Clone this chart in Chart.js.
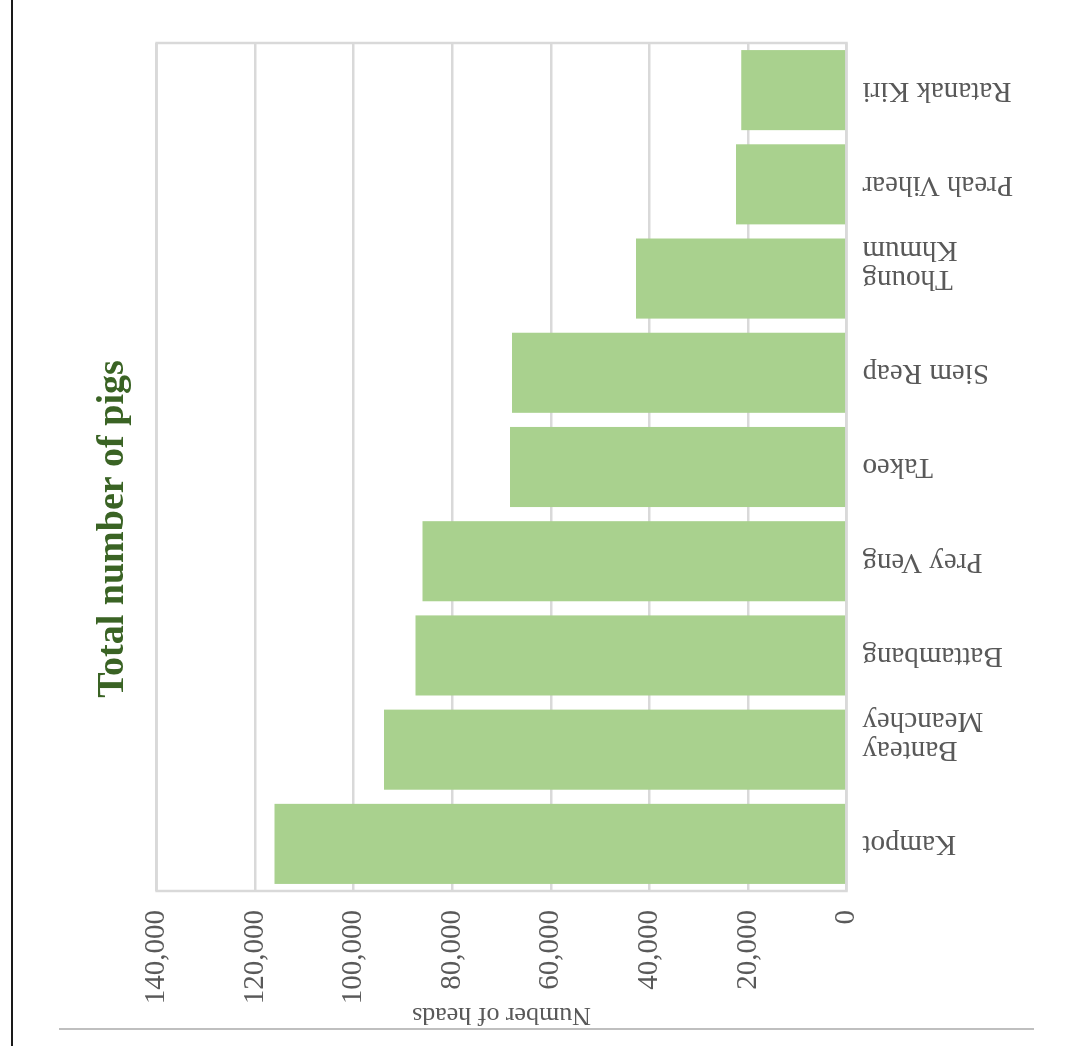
<!DOCTYPE html>
<html>
<head>
<meta charset="utf-8">
<script src="https://cdn.jsdelivr.net/npm/chart.js@4/dist/chart.umd.min.js"></script>
<style>
  html, body { margin: 0; padding: 0; background: #ffffff; }
  #page { position: relative; width: 1074px; height: 1046px; overflow: hidden; background: #ffffff; }
  #c { position: absolute; left: 0; top: 0; transform-origin: 0 0; transform: translateY(1046px) rotate(-90deg); }
  #vline { position: absolute; left: 11px; top: 0; width: 1.5px; height: 1046px; background: #1a1a1a; }
  #hline { position: absolute; left: 59px; top: 1028px; width: 975px; height: 1.5px; background: #bfbfbf; }
</style>
</head>
<body>
<div id="page">
  <canvas id="c" width="1046" height="1074"></canvas>
  <div id="vline"></div>
  <div id="hline"></div>
</div>
<script>
// ---- data ----
const categories = [
  'Kampot',
  ['Banteay', 'Meanchey'],
  'Battambang',
  'Prey Veng',
  'Takeo',
  'Siem Reap',
  ['Thoung', 'Khmum'],
  'Preah Vihear',
  'Ratanak Kiri'
];
const pigHeads = [116100, 93850, 87470, 86050, 68260, 67860, 42740, 22440, 21360];
const axisMax = 140000;
const axisStep = 20000;
const chartTitle = 'Total number of pigs';
const valueAxisTitle = 'Number of heads';

// ---- styles ----
const FONT = "'Liberation Serif', 'Times New Roman', serif";
const GRID = '#d9d9d9';
const TEXT = '#595959';
const PAD_LEFT = 31;

const frame = {
  id: 'frame',
  afterDatasetsDraw(chart) {
    const a = chart.chartArea, ctx = chart.ctx;
    ctx.save();
    ctx.strokeStyle = GRID;
    ctx.lineWidth = 2.5;
    ctx.strokeRect(a.left, a.top, a.right - a.left, a.bottom - a.top);
    ctx.restore();
  }
};

new Chart(document.getElementById('c'), {
  type: 'bar',
  data: {
    labels: categories,
    datasets: [{
      label: valueAxisTitle,
      data: pigHeads,
      backgroundColor: '#a9d18e',
      borderWidth: 0,
      barPercentage: 0.85,
      categoryPercentage: 1.0
    }]
  },
  options: {
    responsive: false,
    devicePixelRatio: 1,
    animation: false,
    layout: { padding: { left: PAD_LEFT, right: 43, top: 0, bottom: 0 } },
    plugins: {
      legend: { display: false },
      tooltip: { enabled: false },
      title: {
        display: true,
        text: chartTitle,
        color: '#3a6324',
        font: { family: FONT, size: 38, weight: 'bold', lineHeight: 1.2 },
        padding: { top: 90, bottom: 21 }
      }
    },
    scales: {
      x: {
        grid: { display: false, drawTicks: false },
        border: { display: false },
        ticks: {
          color: TEXT,
          font: { family: FONT, size: 29, lineHeight: 1.0 },
          minRotation: 90,
          maxRotation: 90,
          autoSkip: false,
          padding: 16
        },
        afterFit(scale) { scale.height = 227.5; }
      },
      y: {
        min: 0,
        max: axisMax,
        grid: { color: GRID, lineWidth: 2.5, drawTicks: false },
        border: { display: false },
        ticks: {
          stepSize: axisStep,
          color: TEXT,
          font: { family: FONT, size: 29 },
          padding: 19
        },
        title: {
          display: true,
          text: valueAxisTitle,
          color: TEXT,
          font: { family: FONT, size: 26, lineHeight: 1.2 },
          padding: { top: -PAD_LEFT + 16, bottom: 0 }
        },
        afterFit(scale) { scale.width = 155 - PAD_LEFT; }
      }
    }
  },
  plugins: [frame]
});
</script>
</body>
</html>
